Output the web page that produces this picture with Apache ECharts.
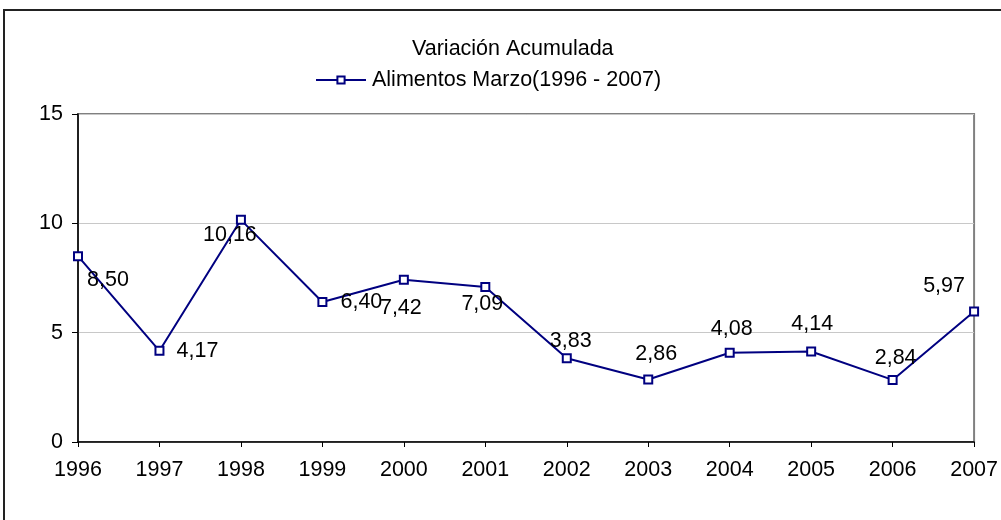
<!DOCTYPE html>
<html>
<head>
<meta charset="utf-8">
<script src="https://cdn.jsdelivr.net/npm/echarts@6/dist/echarts.min.js"></script>
<style>
    html, body { margin: 0; padding: 0; background: #fff; }
    #chart { width: 1001px; height: 520px; }
</style>
</head>
<body>
<div id="chart"></div>
<script>
// datos
var years = ['1996', '1997', '1998', '1999', '2000', '2001', '2002', '2003', '2004', '2005', '2006', '2007'];
var values = [8.50, 4.17, 10.16, 6.40, 7.42, 7.09, 3.83, 2.86, 4.08, 4.14, 2.84, 5.97];
var yTicks = [0, 5, 10, 15];

// desplazamiento de cada etiqueta respecto al punto
var labelOffsets = [[30, 24], [38, 0], [-11, 15], [39, 0], [-3, 28], [-3, 17],
                    [4, -17], [8, -25], [2, -24], [1, -27], [3, -22], [-30, -25]];

var chart = echarts.init(document.getElementById('chart'));

var font = 'Liberation Sans, Arial, sans-serif';
var fs = 21.5;

chart.setOption({
    animation: false,
    title: {
        text: 'Variación Acumulada',
        left: 407,
        top: 33,
        textStyle: { fontFamily: font, fontSize: fs, fontWeight: 'normal', color: '#000' }
    },
    legend: {
        data: ['Alimentos Marzo(1996 - 2007)'],
        left: 315,
        top: 69,
        padding: 0,
        itemWidth: 50,
        itemHeight: 9,
        itemGap: 6,
        textStyle: { fontFamily: font, fontSize: fs, color: '#000', padding: [0, 0, 0, 1] }
    },
    grid: { left: 78, right: 23, top: 114, bottom: 78, show: true, borderColor: '#808080', borderWidth: 2 },
    xAxis: {
        type: 'category',
        data: years,
        boundaryGap: false,
        axisLine: { lineStyle: { color: '#000', width: 1.5 } },
        axisTick: { length: 5, lineStyle: { color: '#000' } },
        axisLabel: { fontFamily: font, fontSize: fs, color: '#000', margin: 17 },
        splitLine: { show: false }
    },
    yAxis: {
        type: 'value',
        min: yTicks[0],
        max: yTicks[yTicks.length - 1],
        interval: 5,
        axisLine: { show: true, lineStyle: { color: '#000', width: 1.5 } },
        axisTick: { show: true, length: 6, lineStyle: { color: '#000' } },
        axisLabel: { fontFamily: font, fontSize: fs, color: '#000', margin: 15 },
        splitLine: { lineStyle: { color: '#c8c8c8', width: 1 } }
    },
    series: [{
        name: 'Alimentos Marzo(1996 - 2007)',
        type: 'line',
        data: values.map(function (v, i) {
            return { value: v, label: { offset: labelOffsets[i] } };
        }),
        symbol: 'rect',
        symbolSize: 8,
        itemStyle: { color: '#fff', borderColor: '#000080', borderWidth: 2 },
        lineStyle: { color: '#000080', width: 2 },
        label: {
            show: true,
            position: 'inside',
            fontFamily: font,
            fontSize: fs,
            color: '#000',
            formatter: function (p) { return p.value.toFixed(2).replace('.', ','); }
        }
    }],
    graphic: [{
        type: 'rect',
        shape: { x: 4, y: 10, width: 1010, height: 520 },
        style: { fill: 'none', stroke: '#222', lineWidth: 2 },
        silent: true
    }]
});
</script>
</body>
</html>
